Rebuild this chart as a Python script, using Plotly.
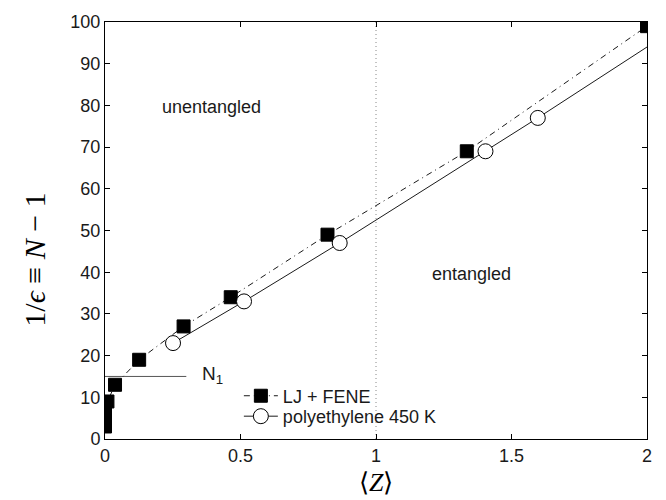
import plotly.graph_objects as go

# LJ + FENE bead-spring chains: mean entanglements per chain vs. 1/epsilon
lj_z = [0.0, 0.0, 0.009, 0.037, 0.126, 0.29, 0.464, 0.821, 1.335, 2.0]
lj_n = [3, 6, 9, 13, 19, 27, 34, 49, 69, 99]

# polyethylene at 450 K
pe_z = [0.251, 0.513, 0.866, 1.404, 1.597]
pe_n = [23, 33, 47, 69, 77]
# solid guide line continues to the right edge
pe_line_z = pe_z + [2.0]
pe_line_n = pe_n + [94]

# N_1 threshold marker
n1_value = 15
n1_z_end = 0.30

x_ticks = [0, 0.5, 1, 1.5, 2]
x_tick_text = ["0", "0.5", "1", "1.5", "2"]
y_ticks = list(range(0, 101, 10))

font_main = "Liberation Sans, Arial, Helvetica, sans-serif"
font_math = "Liberation Serif, Times New Roman, serif"
ink = "#1a1a1a"

fig = go.Figure()

# threshold line N_1
fig.add_trace(go.Scatter(
    x=[0, n1_z_end], y=[n1_value, n1_value], mode="lines",
    line=dict(color="#555555", width=1), showlegend=False, hoverinfo="skip"))

# entangled / unentangled divider
fig.add_trace(go.Scatter(
    x=[1, 1], y=[0, 100], mode="lines",
    line=dict(color="#888888", width=1, dash="1px,3px"),
    showlegend=False, hoverinfo="skip"))

fig.add_trace(go.Scatter(
    x=pe_line_z, y=pe_line_n, mode="lines",
    line=dict(color=ink, width=1), showlegend=False, hoverinfo="skip"))

fig.add_trace(go.Scatter(
    x=lj_z, y=lj_n, mode="lines+markers", name="LJ + FENE", legend="legend",
    line=dict(color=ink, width=1, dash="6px,4px,1px,4px"),
    marker=dict(symbol="square", size=13, color="black",
                line=dict(color="black", width=1))))

fig.add_trace(go.Scatter(
    x=[None], y=[None], mode="lines+markers", name="polyethylene 450 K",
    legend="legend2",
    line=dict(color=ink, width=1),
    marker=dict(symbol="circle", size=15, color="white",
                line=dict(color="black", width=1))))

fig.add_trace(go.Scatter(
    x=pe_z, y=pe_n, mode="markers", showlegend=False,
    marker=dict(symbol="circle", size=15, color="white",
                line=dict(color="black", width=1))))

fig.add_annotation(x=0.203, y=79.6, text="unentangled", showarrow=False,
                   xanchor="left", yanchor="middle",
                   font=dict(family=font_main, size=18, color=ink))
fig.add_annotation(x=1.2, y=39.6, text="entangled", showarrow=False,
                   xanchor="left", yanchor="middle",
                   font=dict(family=font_main, size=18, color=ink))
fig.add_annotation(x=0.35, y=n1_value + 0.3, text="N<sub>1</sub>", showarrow=False,
                   xanchor="left", yanchor="middle",
                   font=dict(family=font_main, size=19, color=ink))

# axis titles
fig.add_annotation(xref="paper", yref="y", x=0, y=43, xshift=-70,
                   text="1/<i>ϵ</i> ≡ <i>N</i> − 1", textangle=-90,
                   showarrow=False, xanchor="center", yanchor="middle",
                   font=dict(family=font_math, size=30, color="black"))
fig.add_annotation(xref="x", yref="paper", x=1, y=0, yshift=-43,
                   text="⟨<i>Z</i>⟩", showarrow=False,
                   xanchor="center", yanchor="middle",
                   font=dict(family=font_math, size=26, color="black"))

axis_common = dict(
    showgrid=False, zeroline=False, showline=True, mirror="allticks",
    linecolor="black", linewidth=1, ticks="inside", ticklen=5,
    tickcolor="black", tickfont=dict(family=font_main, size=18, color=ink),
)

legend_common = dict(
    xanchor="left", yanchor="middle", bgcolor="rgba(0,0,0,0)", borderwidth=0,
    font=dict(family=font_main, size=18, color=ink), itemwidth=34,
)

fig.update_layout(
    width=666, height=500,
    margin=dict(l=105, r=19, t=12, b=61),
    paper_bgcolor="white", plot_bgcolor="white",
    xaxis=dict(range=[0, 2], tickvals=x_ticks, ticktext=x_tick_text, **axis_common),
    yaxis=dict(range=[0, 100], tickvals=y_ticks, **axis_common),
    legend=dict(x=0.247, y=0.103, **legend_common),
    legend2=dict(x=0.247, y=0.054, **legend_common),
    showlegend=True,
)

fig.write_html("out.html")
